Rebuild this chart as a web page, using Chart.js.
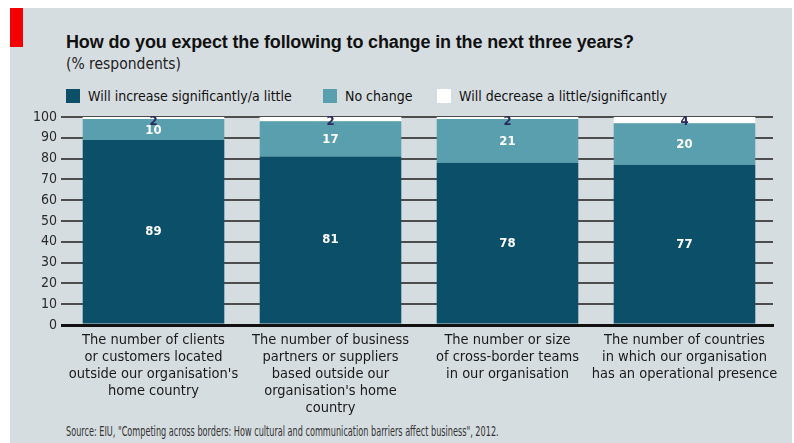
<!DOCTYPE html>
<html>
<head>
<meta charset="utf-8">
<script src="https://cdn.jsdelivr.net/npm/chart.js@4.4.1/dist/chart.umd.min.js"></script>
<style>
  html, body { margin:0; padding:0; background:#ffffff; }
  body { width:794px; height:443px; position:relative; overflow:hidden;
         font-family:"DejaVu Sans Condensed","Liberation Sans",sans-serif; }
  #panel { position:absolute; left:10px; top:8px; width:782px; height:435px; background:#d6dde0; }
  #redbar { position:absolute; left:10px; top:8px; width:13px; height:39px; background:#f50000; }
  #title { position:absolute; left:66px; top:32px; font-size:18px; font-weight:bold; color:#111; white-space:nowrap;
           font-family:"Liberation Sans","DejaVu Sans",sans-serif; letter-spacing:-0.14px; }
  #subtitle { position:absolute; left:66px; top:55px; font-size:15.5px; color:#222; white-space:nowrap; }
  #legend { position:absolute; left:66px; top:88px; font-size:14px; color:#111; white-space:nowrap; }
  .li { position:absolute; top:0; height:16px; line-height:16px; }
  .sw { position:absolute; top:1px; left:0; width:14px; height:14px; }
  .lt { position:absolute; left:22px; top:0; }
  #source { position:absolute; left:66px; top:423px; font-size:13.5px; color:#333; white-space:nowrap;
            transform:scaleX(0.67); transform-origin:0 0; }
  #wrap { position:absolute; left:0; top:0; width:794px; height:443px; }
</style>
</head>
<body>
<div id="panel"></div>
<div id="redbar"></div>
<div id="title">How do you expect the following to change in the next three years?</div>
<div id="subtitle">(% respondents)</div>
<div id="legend"></div>
<div id="source">Source: EIU, "Competing across borders: How cultural and communication barriers affect business", 2012.</div>
<div id="wrap"><canvas id="c" width="794" height="443"></canvas></div>
<script>
const categories = [
  ["The number of clients", "or customers located", "outside our organisation's", "home country"],
  ["The number of business", "partners or suppliers", "based outside our", "organisation's home", "country"],
  ["The number or size", "of cross-border teams", "in our organisation"],
  ["The number of countries", "in which our organisation", "has an operational presence"]
];
const seriesNames = ["Will increase significantly/a little", "No change", "Will decrease a little/significantly"];
const increase = [89, 81, 78, 77];
const noChange = [10, 17, 21, 20];
const decrease = [2, 2, 2, 4];
const yTickValues = [0, 10, 20, 30, 40, 50, 60, 70, 80, 90, 100];

const colors = ["#0b4f69", "#5a9fae", "#ffffff"];
const legendX = [0, 257, 371];

// HTML legend built from series names
const legendEl = document.getElementById('legend');
seriesNames.forEach((n, i) => {
  const d = document.createElement('div');
  d.className = 'li';
  d.style.left = legendX[i] + 'px';
  d.innerHTML = '<span class="sw" style="background:' + colors[i] + '"></span><span class="lt"></span>';
  d.querySelector('.lt').textContent = n;
  legendEl.appendChild(d);
});

const FONT = '"DejaVu Sans Condensed","Liberation Sans",sans-serif';

const valueLabels = {
  id: 'valueLabels',
  afterDatasetsDraw(chart) {
    const ctx = chart.ctx;
    const area = chart.chartArea;
    ctx.save();
    ctx.textAlign = 'center';
    ctx.textBaseline = 'middle';
    chart.data.datasets.forEach((ds, di) => {
      const meta = chart.getDatasetMeta(di);
      meta.data.forEach((bar, i) => {
        const v = ds.data[i];
        let y;
        ctx.font = 'bold 13px ' + FONT;
        if (di < 2) {
          ctx.fillStyle = '#ffffff';
          const top = Math.max(bar.y, area.top);
          y = (top + bar.base) / 2;
          if (di === 1) y += 1;
        } else {
          ctx.fillStyle = '#2a2a5e';
          y = Math.max(bar.y, area.top) + 5;
        }
        ctx.fillText(String(v), bar.x, y);
      });
    });
    ctx.restore();
  }
};

new Chart(document.getElementById('c'), {
  type: 'bar',
  data: {
    labels: categories,
    datasets: [
      { label: seriesNames[0], data: increase, backgroundColor: colors[0] },
      { label: seriesNames[1], data: noChange, backgroundColor: colors[1] },
      { label: seriesNames[2], data: decrease, backgroundColor: colors[2] }
    ]
  },
  options: {
    responsive: false,
    animation: false,
    devicePixelRatio: 1,
    layout: { padding: { left: 20, right: 21, top: 117, bottom: 0 } },
    datasets: { bar: { categoryPercentage: 1.0, barPercentage: 0.8, borderWidth: 0 } },
    plugins: { legend: { display: false }, tooltip: { enabled: false } },
    scales: {
      x: {
        stacked: true,
        grid: { display: false, drawTicks: false },
        border: { display: true, color: '#111', width: 3 },
        ticks: {
          color: '#1a1a1a',
          padding: 7,
          maxRotation: 0,
          autoSkip: false,
          font: { family: FONT, size: 14.5, lineHeight: 1.17 }
        },
        afterFit(scale) { scale.height = 118; }
      },
      y: {
        stacked: true,
        min: 0, max: 100,
        afterBuildTicks(scale) { scale.ticks = yTickValues.map(v => ({ value: v })); },
        grid: {
          color: (c) => c.tick && c.tick.value === 0 ? '#111' : '#4d4d4d',
          lineWidth: (c) => c.tick && c.tick.value === 0 ? 3 : 2,
          drawTicks: true,
          tickLength: 4
        },
        border: { display: false },
        ticks: {
          color: '#2a2a2a',
          padding: 4,
          font: { family: FONT, size: 14 }
        },
        afterFit(scale) { scale.width = 45; }
      }
    }
  },
  plugins: [valueLabels]
});
</script>
</body>
</html>
